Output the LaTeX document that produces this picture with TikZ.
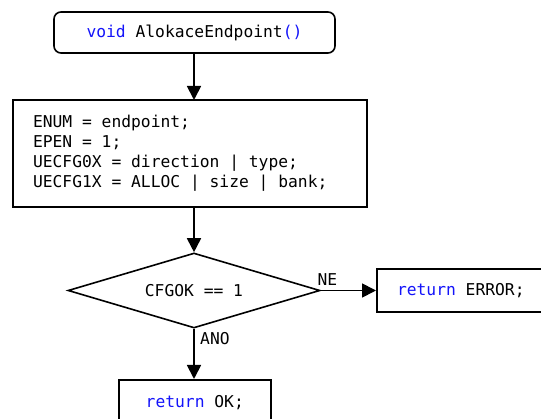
\documentclass[tikz,border=0pt]{standalone}
\usepackage{fontspec}
\setmonofont{DejaVu Sans Mono}
\usetikzlibrary{shapes.geometric,arrows.meta}
\definecolor{kwblue}{RGB}{20,20,250}
\newcommand{\kw}[1]{\textcolor{kwblue}{#1}}
\newcommand{\codefont}{\ttfamily\fontsize{16.3}{20}\selectfont}
\newcommand{\fixspace}{\spaceskip=0.602em plus 0pt minus 0pt\relax}
\tikzset{
  every node/.style={font=\codefont},
  startbox/.style={draw, line width=1.6pt, rounded corners=7pt, minimum width=281pt, minimum height=41pt},
  procbox/.style={draw, line width=1.6pt, minimum height=43pt},
  decbox/.style={draw, line width=1.6pt, diamond, aspect=3.3, inner sep=0pt, minimum width=252pt, minimum height=75pt},
  flow/.style={line width=1.8pt, -{Triangle[width=14pt,length=14pt]}}
}
\begin{document}
\begin{tikzpicture}[x=1pt,y=-1pt]
        \clip (0,0) rectangle (541,419);
        \fill[white] (0,0) rectangle (541,419);

        % start
        \node[startbox] (start) at (194.5,32.5) {\kw{void} AlokaceEndpoint\kw{()}};

        % setup
        \node[procbox, minimum height=107pt, text width=314pt, inner xsep=20pt, align=flush left] (setup) at (190,153.5)
          {\fixspace ENUM = endpoint;\\EPEN = 1;\\UECFG0X = direction | type;\\UECFG1X = ALLOC | size | bank;};

        % test
        \node[decbox] (test) at (194,290.5) {CFGOK == 1};
        \node[procbox, anchor=west, minimum width=168pt, inner xsep=20pt] (err) at (376,290.5) {\kw{return} ERROR;};
        \node[procbox, anchor=north west, minimum width=152pt, minimum height=46pt] (ok) at (118,379) {\kw{return} OK;};

        \coordinate (sb) at (194,53);
        \coordinate (st) at (194,100);
        \coordinate (pb) at (194,207);

        \draw[flow] (sb) -- (st);
        \draw[flow] (pb) -- (test.north);
        \draw[flow] (test.east) -- (err.west) node[pos=0.12, above=1pt] (ne) {NE};
        \draw[flow] (test.south) -- (ok.north -| test.south) node[pos=0.2, right=2pt] (ano) {ANO};

      \end{tikzpicture}
\end{document}
